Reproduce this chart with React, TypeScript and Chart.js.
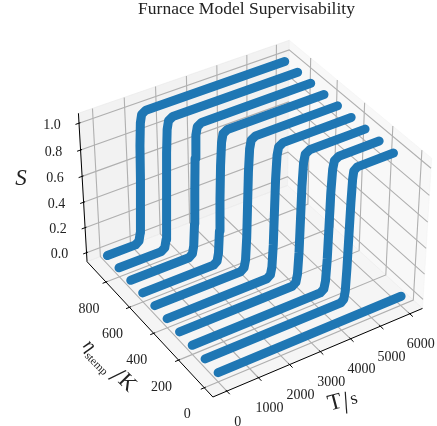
import React, { useEffect, useRef } from "react";
import { Chart, registerables } from "chart.js";

Chart.register(...registerables);

// ---- data ----
const tTicks = [0, 1000, 2000, 3000, 4000, 5000, 6000];
const etaTicks = [0, 200, 400, 600, 800];
const sTicks = [0, 0.2, 0.4, 0.6, 0.8, 1.0];

const etaValues = [900, 800, 700, 600, 500, 400, 300, 200, 100, 0];
const sLevels = [0, 0, 0.02, 0.08, 0.25, 0.5, 0.75, 0.92, 0.98, 1, 1];

const T900 = [0, 925, 1045, 1095, 1135, 1165, 1195, 1235, 1285, 1425, 6000];
const T800 = [0, 1390, 1510, 1560, 1600, 1630, 1660, 1700, 1750, 1890, 6000];
const T700 = [0, 1910, 2030, 2080, 2120, 2150, 2180, 2220, 2270, 2410, 6000];
const T600 = [0, 2325, 2445, 2495, 2535, 2565, 2595, 2635, 2685, 2825, 6000];
const T500 = [0, 2810, 2930, 2980, 3020, 3050, 3080, 3120, 3170, 3310, 6000];
const T400 = [0, 3265, 3385, 3435, 3475, 3505, 3535, 3575, 3625, 3765, 6000];
const T300 = [0, 3685, 3805, 3855, 3895, 3925, 3955, 3995, 4045, 4185, 6000];
const T200 = [0, 4180, 4300, 4350, 4390, 4420, 4450, 4490, 4540, 4680, 6000];
const T100 = [0, 4420, 4520, 4560, 4590, 4620, 4650, 4680, 4710, 4820, 6000];
const T000 = [0, 6000];
const S000 = [0, 0];

const tSeries = [T900, T800, T700, T600, T500, T400, T300, T200, T100];

// ---- axis ranges ----
const T_MIN = -437.5, T_MAX = 6437.5;
const E_MIN = -65.6, E_MAX = 965.6;
const S_MIN = -0.0729, S_MAX = 1.0729;

// ---- view ----
const EL = (37 * Math.PI) / 180;
const AZ = (-122.5 * Math.PI) / 180;
const DIST = 10;
const SCALE = 218;
const CX = 252.5;
const CY = 212;
const BOX = [1.143, 1.143, 0.857];

const R = [-Math.sin(AZ), Math.cos(AZ), 0];
const U = [-Math.cos(AZ) * Math.sin(EL), -Math.sin(AZ) * Math.sin(EL), Math.cos(EL)];
const N = [Math.cos(EL) * Math.cos(AZ), Math.cos(EL) * Math.sin(AZ), Math.sin(EL)];
const dot = (a: number[], b: number[]) => a[0] * b[0] + a[1] * b[1] + a[2] * b[2];

function project(t: number, e: number, s: number) {
  const p = [
    ((t - T_MIN) / (T_MAX - T_MIN) - 0.5) * BOX[0],
    ((e - E_MIN) / (E_MAX - E_MIN) - 0.5) * BOX[1],
    ((s - S_MIN) / (S_MAX - S_MIN) - 0.5) * BOX[2],
  ];
  const f = DIST / (DIST - dot(p, N));
  return { x: CX + SCALE * f * dot(p, R), y: CY - SCALE * f * dot(p, U) };
}

type P3 = [number, number, number];

function buildDatasets() {
  const sets: any[] = [];
  const add = (pts: P3[], extra: any) => {
    sets.push({
      data: pts.map((q) => project(q[0], q[1], q[2])),
      pointRadius: 0,
      tension: 0,
      order: -sets.length,
      ...extra,
    });
  };
  const pane = (pts: P3[], c: string) =>
    add(pts, { fill: "shape", backgroundColor: c, borderColor: c, borderWidth: 1 });
  pane([[T_MIN, E_MAX, S_MIN], [T_MAX, E_MAX, S_MIN], [T_MAX, E_MAX, S_MAX], [T_MIN, E_MAX, S_MAX], [T_MIN, E_MAX, S_MIN]], "rgba(230,230,230,0.5)");
  pane([[T_MAX, E_MIN, S_MIN], [T_MAX, E_MAX, S_MIN], [T_MAX, E_MAX, S_MAX], [T_MAX, E_MIN, S_MAX], [T_MAX, E_MIN, S_MIN]], "rgba(242,242,242,0.5)");
  pane([[T_MIN, E_MIN, S_MIN], [T_MAX, E_MIN, S_MIN], [T_MAX, E_MAX, S_MIN], [T_MIN, E_MAX, S_MIN], [T_MIN, E_MIN, S_MIN]], "rgba(236,236,236,0.5)");

  const grid = { borderColor: "#b0b0b0", borderWidth: 1.1, fill: false };
  tTicks.forEach((t) => add([[t, E_MIN, S_MIN], [t, E_MAX, S_MIN], [t, E_MAX, S_MAX]], grid));
  etaTicks.forEach((e) => add([[T_MIN, e, S_MIN], [T_MAX, e, S_MIN], [T_MAX, e, S_MAX]], grid));
  sTicks.forEach((s) => add([[T_MIN, E_MAX, s], [T_MAX, E_MAX, s], [T_MAX, E_MIN, s]], grid));

  const axis = { borderColor: "#000", borderWidth: 1, fill: false };
  add([[T_MIN, E_MIN, S_MIN], [T_MAX, E_MIN, S_MIN]], axis);
  add([[T_MIN, E_MIN, S_MIN], [T_MIN, E_MAX, S_MIN]], axis);
  add([[T_MIN, E_MAX, S_MIN], [T_MIN, E_MAX, S_MAX]], axis);
  tTicks.forEach((t) => add([[t, E_MIN + 8, S_MIN], [t, E_MIN - 22, S_MIN]], axis));
  etaTicks.forEach((e) => add([[T_MIN + 45, e, S_MIN], [T_MIN - 110, e, S_MIN]], axis));
  sTicks.forEach((s) => add([[T_MIN + 45, E_MAX, s], [T_MIN - 110, E_MAX, s]], axis));

  const line = {
    borderColor: "#1f77b4",
    borderWidth: 9,
    borderCapStyle: "round",
    borderJoinStyle: "round",
    fill: false,
  };
  tSeries.forEach((ts, i) => add(ts.map((t, k) => [t, etaValues[i], sLevels[k]] as P3), line));
  add(T000.map((t, k) => [t, etaValues[9], S000[k]] as P3), line);
  return sets;
}

const textPlugin = {
  id: "textPlugin",
  afterDraw(chart: any) {
    const ctx = chart.ctx;
    const serif = '"Liberation Serif", "Times New Roman", serif';
    ctx.save();
    ctx.fillStyle = "#222";
    ctx.textAlign = "center";
    ctx.textBaseline = "middle";
    ctx.font = `17.5px ${serif}`;
    ctx.fillText("Furnace Model Supervisability", 246.5, 9);

    ctx.font = `14px ${serif}`;
    tTicks.forEach((t) => {
      const p = project(t, E_MIN, S_MIN);
      ctx.fillText(String(t), p.x + 11, p.y + 31);
    });
    etaTicks.forEach((e) => {
      const p = project(T_MIN, e, S_MIN);
      ctx.fillText(String(e), p.x - 17, p.y + 27);
    });
    sTicks.forEach((s) => {
      const p = project(T_MIN, E_MAX, s);
      ctx.fillText(s.toFixed(1), p.x - 27, p.y + 2);
    });

    ctx.font = `italic 23px ${serif}`;
    ctx.fillText("S", 21, 179);

    const piece = (txt: string, x: number, y: number, deg: number, font: string) => {
      ctx.save();
      ctx.translate(x, y);
      ctx.rotate((deg * Math.PI) / 180);
      ctx.font = `${font} ${serif}`;
      ctx.fillText(txt, 0, 0);
      ctx.restore();
    };
    piece("η", 89, 346, 45, "italic 19px");
    piece("stemp", 96, 364, 45, "11.5px");
    piece("/", 116, 376, 45, "28px");
    piece("K", 127, 383, 45, "22px");
    piece("T", 335, 403, -15, "23px");
    piece("|", 346, 402, -4, "24px");
    piece("s", 354, 399, -15, "18px");
    ctx.restore();
  },
};

export default function App() {
  const ref = useRef<HTMLCanvasElement>(null);
  useEffect(() => {
    document.body.style.margin = "0";
    const chart = new Chart(ref.current as HTMLCanvasElement, {
      type: "line",
      data: { datasets: buildDatasets() },
      options: {
        animation: false,
        responsive: false,
        layout: { padding: 0 },
        plugins: { legend: { display: false }, tooltip: { enabled: false }, title: { display: false } },
        scales: {
          x: { type: "linear", display: false, min: 0, max: 437 },
          y: { type: "linear", display: false, min: 0, max: 426, reverse: true },
        },
      },
      plugins: [textPlugin],
    } as any);
    return () => chart.destroy();
  }, []);
  return <canvas ref={ref} width={437} height={426} style={{ display: "block" }} />;
}
